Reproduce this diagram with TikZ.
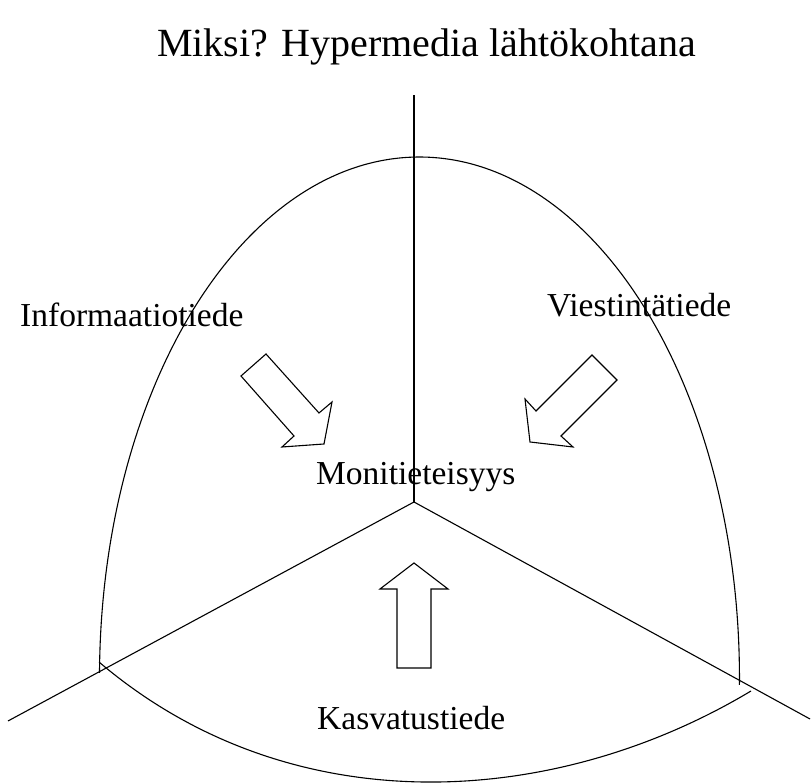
\documentclass[tikz,border=0pt]{standalone}
\usepackage{fontspec}
\setmainfont{Liberation Serif}
\begin{document}
\begin{tikzpicture}[x=1pt,y=1pt,
  rule/.style={draw=black,line width=1.1pt},
  blockarrow/.style={draw=black,fill=white,line width=1.1pt,line join=miter},
  label/.style={anchor=base west,inner sep=0pt,font=\fontsize{33.5}{40}\selectfont},
  heading/.style={anchor=base west,inner sep=0pt,font=\fontsize{40}{48}\selectfont}]
  \useasboundingbox (0,0) rectangle (812,783);

  % hub and the ends of the three dividing lines
  \coordinate (hub) at (414,281);
  \coordinate (topend) at (414,688);
  \coordinate (leftend) at (8,62);
  \coordinate (rightend) at (810,64);
  \draw[rule] (hub) -- (topend);
  \draw[rule] (hub) -- (leftend);
  \draw[rule] (hub) -- (rightend);

  % the dome and its closing lower curve
  \coordinate (domeleft) at (99.5,110);
  \draw[rule] (domeleft) arc[start angle=179.45,end angle=-0.77,x radius=320pt,y radius=521pt];
  \coordinate (baseleft) at (99,121);
  \coordinate (baseright) at (751,92);
  \draw[rule] (baseleft) .. controls (293,-44) and (557,-24.4) .. (baseright);

  % block arrows pointing to the centre
  \draw[blockarrow] (266,429) -- (319,370) -- (332,381) -- (324,339) -- (282,336) -- (294,347) -- (241,407) -- cycle;
  \draw[blockarrow] (592,428) -- (617,403) -- (561,347) -- (573,336) -- (530,341) -- (525,384) -- (536,372) -- cycle;
  \draw[blockarrow] (414,220) -- (448,194) -- (431,194) -- (431,115) -- (397,115) -- (397,194) -- (380,194) -- cycle;

  % texts
  \node[heading] (title) at (157,726) {Miksi? Hypermedia lähtökohtana};
  \node[label] (info) at (20,456) {Informaatiotiede};
  \node[label] (viest) at (547,466) {Viestintätiede};
  \node[label] (moni) at (316,298) {Monitieteisyys};
  \node[label] (kasv) at (317,53) {Kasvatustiede};
\end{tikzpicture}
\end{document}
